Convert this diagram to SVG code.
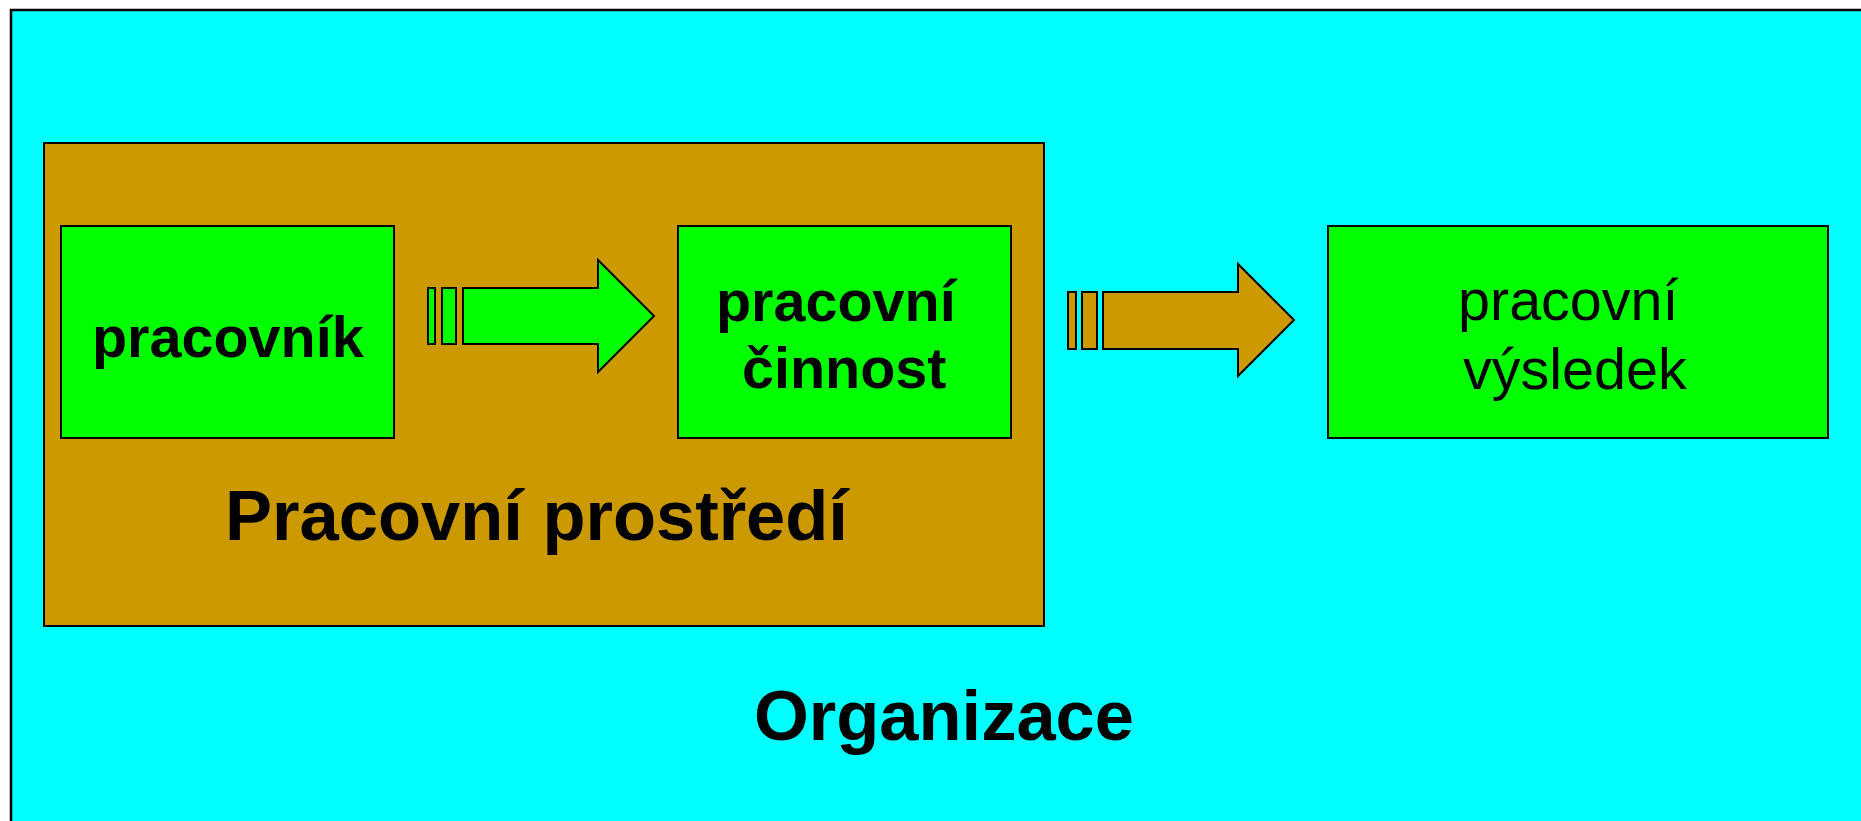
<svg xmlns="http://www.w3.org/2000/svg" width="1861" height="821" viewBox="0 0 1861 821">
<style>
.box{fill:#00FF00;stroke:#000;stroke-width:2}
.brown{fill:#CC9900;stroke:#000;stroke-width:2}
.t{font-family:"Liberation Sans",Arial,sans-serif;fill:#000}
.b{font-weight:bold}
</style>
<rect width="1861" height="821" fill="#fff"/>
<g id="organizace">
<rect x="11" y="10" width="1870" height="830" fill="#00FFFF" stroke="#000" stroke-width="2.5"/>
<text class="t b" x="944" y="740" font-size="70.5" text-anchor="middle">Organizace</text>
</g>
<g id="pracovni-prostredi">
<rect class="brown" x="44" y="143" width="1000" height="483"/>
<text class="t b" x="225" y="540" font-size="70.5">Pracovní prostředí</text>
</g>
<g id="pracovnik">
<rect class="box" x="61" y="226" width="333" height="212"/>
<text class="t b" x="92" y="357" font-size="57.5">pracovník</text>
</g>
<g id="pracovni-cinnost">
<rect class="box" x="678" y="226" width="333" height="212"/>
<text class="t b" font-size="57.5"><tspan x="716" y="321">pracovní</tspan><tspan x="742" y="388">činnost</tspan></text>
</g>
<g id="pracovni-vysledek">
<rect class="box" x="1328" y="226" width="500" height="212"/>
<text class="t" font-size="57.5"><tspan x="1458" y="320">pracovní</tspan><tspan x="1463" y="389">výsledek</tspan></text>
</g>
<g id="connectors">
<g class="box">
<rect x="428" y="288" width="7" height="56"/>
<rect x="442" y="288" width="14" height="56"/>
<polygon points="463,288 598,288 598,260 654,316 598,372 598,344 463,344"/>
</g>
<g class="brown">
<rect x="1068" y="292" width="8" height="57"/>
<rect x="1082" y="292" width="15" height="57"/>
<polygon points="1103,292 1238,292 1238,264 1294,320 1238,376 1238,349 1103,349"/>
</g>
</g>
</svg>
